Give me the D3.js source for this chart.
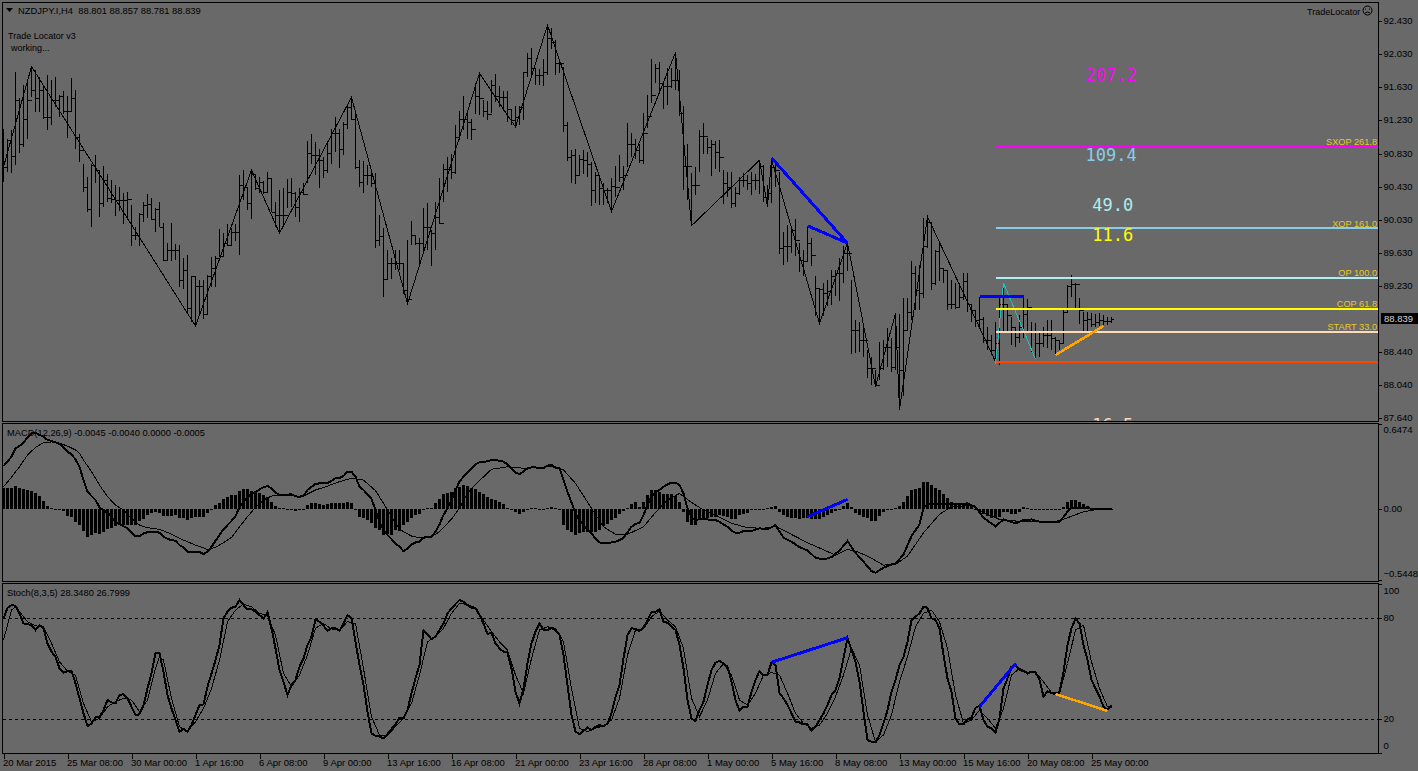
<!DOCTYPE html>
<html><head><meta charset="utf-8">
<script src="https://cdn.jsdelivr.net/npm/d3@7/dist/d3.min.js"></script>
<style>
html,body{margin:0;padding:0;background:#696969;overflow:hidden}
svg{display:block}
text{font-family:"Liberation Sans",Arial,sans-serif;font-size:9.4px;fill:#000}
</style></head><body>
<script>
const highs=[91.13,91.01,91.11,91.82,91.50,91.66,91.72,91.88,91.84,91.76,
91.66,91.78,91.72,91.76,91.54,91.58,91.52,91.74,91.60,91.07,
90.71,90.55,90.71,90.81,90.63,90.68,90.58,90.51,90.45,90.43,
90.36,90.37,90.21,89.95,90.11,90.25,90.34,90.29,90.17,90.25,
89.99,89.75,89.99,89.74,89.73,89.57,89.61,89.35,89.35,89.30,
89.30,89.36,89.58,89.59,89.92,89.87,89.98,89.93,89.98,90.57,
90.63,90.41,90.63,90.58,90.55,90.50,90.61,90.53,90.25,90.39,
90.41,90.52,90.53,90.37,90.41,90.47,90.98,91.07,90.97,90.89,
90.79,90.97,91.13,91.27,91.13,91.21,91.41,91.51,91.33,90.75,
90.74,90.69,90.63,90.60,90.09,89.93,89.67,89.57,89.67,89.67,
89.51,89.79,90.02,89.85,89.81,90.17,90.24,89.91,90.25,90.53,
90.70,90.79,90.82,91.17,91.35,91.52,91.35,91.25,91.68,91.80,
91.48,91.46,91.72,91.79,91.64,91.59,91.58,91.37,91.40,91.41,
91.82,92.04,92.10,91.85,91.85,91.97,92.38,92.35,92.20,91.94,
91.88,91.21,90.87,90.89,90.81,90.87,90.85,90.73,90.61,90.54,
90.47,90.41,90.53,90.68,90.81,90.68,91.20,91.08,91.01,90.95,
91.32,91.54,91.97,91.91,91.93,91.70,91.86,91.86,92.05,91.84,
91.40,90.94,90.60,90.67,91.12,91.20,91.02,91.00,90.98,91.00,
90.63,90.61,90.61,90.43,90.55,90.60,90.57,90.61,90.59,90.73,
90.69,90.45,90.75,90.69,90.61,89.89,89.97,89.95,90.04,89.75,
89.67,89.96,89.81,89.35,89.21,89.27,89.30,89.43,89.43,89.57,
89.71,89.75,89.31,88.82,88.80,88.74,88.46,88.38,88.22,88.56,
88.58,88.72,88.60,88.90,88.90,89.09,89.09,89.53,89.47,89.49,
90.05,90.07,89.99,89.67,89.75,89.45,89.43,89.31,89.27,89.27,
89.39,89.39,89.00,88.94,89.10,88.86,88.74,88.64,88.80,89.10,
89.27,89.00,88.86,88.72,88.88,89.10,89.07,88.80,88.79,88.66,
88.74,88.82,88.82,88.62,88.58,88.94,89.25,89.37,89.27,89.09,
88.92,88.92,88.91,88.90,88.91,88.88,88.86,88.857];
const lows=[90.49,90.61,90.60,90.69,90.84,90.91,91.01,91.51,91.33,91.33,
91.25,91.12,91.17,91.39,91.27,91.31,91.02,91.35,90.88,90.73,
90.37,90.13,89.95,90.47,90.07,90.18,90.25,90.23,90.08,90.14,
89.98,90.03,89.71,89.79,89.71,90.00,90.05,90.03,89.89,89.94,
89.53,89.54,89.54,89.55,89.22,89.20,88.90,88.80,88.75,88.90,
88.83,88.88,89.22,89.22,89.58,89.58,89.71,89.71,89.78,89.61,
90.27,90.15,90.04,90.39,90.35,90.34,90.35,90.12,89.94,89.87,
89.95,90.17,90.19,90.07,90.00,90.33,90.47,90.71,90.57,90.42,
90.53,90.60,90.71,90.85,90.66,90.81,91.13,91.24,90.65,90.43,
90.36,90.45,90.43,89.69,89.71,89.10,89.30,89.32,89.42,89.42,
89.14,89.02,89.73,89.73,89.49,89.63,89.67,89.47,89.67,89.98,
90.25,90.37,90.52,90.59,90.99,91.11,91.01,91.00,91.31,91.29,
91.27,91.23,91.32,91.45,91.39,91.35,91.21,91.17,91.15,91.17,
91.23,91.76,91.74,91.66,91.66,91.64,91.78,92.09,91.78,91.80,
91.09,90.74,90.47,90.46,90.57,90.58,90.55,90.20,90.23,90.21,
90.21,90.23,90.13,90.31,90.49,90.39,90.67,90.79,90.77,90.72,
90.71,91.14,91.44,91.68,91.56,91.37,91.42,91.62,91.60,91.28,
90.39,90.27,89.96,90.33,90.61,90.83,90.83,90.56,90.65,90.61,
90.22,90.31,90.17,90.19,90.33,90.43,90.39,90.33,90.39,90.34,
90.25,90.18,90.23,90.43,89.62,89.49,89.52,89.63,89.59,89.40,
89.35,89.53,89.47,88.87,88.78,88.87,88.99,89.00,89.11,89.05,
89.27,89.41,88.41,88.43,88.44,88.38,88.12,88.04,88.02,88.10,
88.22,88.25,88.19,88.22,87.74,87.90,88.70,88.82,88.94,88.94,
89.09,89.69,89.19,89.25,89.29,89.27,88.94,88.96,88.96,88.98,
89.06,88.92,88.80,88.74,88.72,88.54,88.46,88.40,88.32,88.28,
88.66,88.68,88.52,88.50,88.54,88.60,88.68,88.44,88.35,88.38,
88.50,88.48,88.46,88.40,88.46,88.54,88.92,89.10,88.96,88.77,
88.68,88.68,88.74,88.74,88.75,88.76,88.76,88.781];
const closes=[90.67,90.99,90.80,91.48,90.94,91.25,91.48,91.60,91.50,91.60,
91.27,91.27,91.48,91.48,91.52,91.35,91.35,91.50,91.03,90.87,
90.43,90.16,90.69,90.63,90.24,90.51,90.29,90.28,90.27,90.27,
90.27,90.28,89.85,89.85,90.10,90.21,90.22,90.04,90.16,89.95,
89.55,89.67,89.67,89.67,89.30,89.43,88.97,89.35,89.23,89.23,
88.90,89.35,89.45,89.57,89.59,89.75,89.73,89.89,89.89,90.45,
90.43,90.24,90.59,90.41,90.49,90.37,90.53,90.13,90.09,90.09,
90.09,90.37,90.35,90.19,90.37,90.34,90.84,90.81,90.81,90.75,
90.63,90.84,91.08,91.08,90.89,91.19,91.39,91.25,90.67,90.49,
90.57,90.57,90.47,89.79,89.83,89.32,89.51,89.51,89.51,89.51,
89.18,89.07,89.85,89.75,89.75,89.95,89.95,89.87,90.07,89.99,
90.65,90.65,90.61,91.03,91.25,91.25,91.21,91.13,91.52,91.50,
91.35,91.31,91.66,91.52,91.51,91.51,91.37,91.23,91.27,91.39,
91.81,91.98,91.86,91.78,91.78,91.82,92.22,92.18,91.92,91.92,
91.17,90.79,90.81,90.57,90.77,90.75,90.71,90.39,90.57,90.41,
90.39,90.39,90.44,90.43,90.55,90.57,90.95,90.95,90.87,90.75,
91.08,91.28,91.54,91.86,91.68,91.64,91.64,91.72,91.72,91.32,
90.68,90.68,90.45,90.45,91.04,91.04,90.91,90.94,90.85,90.79,
90.47,90.43,90.23,90.36,90.51,90.51,90.47,90.51,90.51,90.68,
90.31,90.35,90.67,90.63,89.69,89.72,89.72,89.91,89.79,89.55,
89.53,89.75,89.61,89.21,89.20,89.15,89.17,89.35,89.39,89.39,
89.63,89.63,88.70,88.70,88.58,88.58,88.24,88.24,88.04,88.24,
88.50,88.50,88.26,88.50,88.22,88.70,88.92,89.39,89.19,89.15,
89.71,90.01,89.27,89.66,89.45,89.43,89.02,89.02,88.98,89.10,
89.29,89.02,88.94,88.82,88.84,88.58,88.58,88.46,88.54,89.02,
89.02,88.88,88.74,88.62,88.74,88.90,88.98,88.68,88.54,88.54,
88.64,88.64,88.60,88.58,88.54,88.92,89.23,89.26,89.26,88.94,
88.82,88.84,88.78,88.80,88.82,88.81,88.81,88.839];
const zigBars=[0,7,48,62,69,87,101,119,128,136,152,168,172,189,191,192,204,211,218,223,224,231,248];
const zigPrices=[90.67,91.88,88.75,90.63,89.87,91.51,89.02,91.80,91.15,92.38,90.13,92.05,89.96,90.75,90.19,90.76,88.78,89.75,88.02,88.90,87.74,90.07,88.32];
const tealBars=[248,250,258];
const tealPrices=[88.29,89.27,88.35];
const fibNames=["SXOP 261.8","XOP 161.0","OP 100.0","COP 61.8","START 33.0",""];
const fibPrices=[90.92,89.93,89.33,88.96,88.68,88.32];
const fibColors=["#ff00ff","#87ceeb","#afeeee","#ffff00","#ffdab9","#ff4500"];
const bigLabels=["207.2","109.4","49.0","11.6","16.5"];
const bigPrices=[91.79,90.83,90.22,89.86,87.57];
const bigBars=[270.5,270.5,272.2,272.2,272.2];
const bigColors=["#ff00ff","#87ceeb","#afeeee","#ffff00","#ffdab9"];
const priceTicks=[92.43,92.03,91.63,91.23,90.83,90.43,90.03,89.63,89.23,88.44,88.04,87.64];
const timeBars=[0,16,32,48,64,80,96,112,128,144,160,176,192,208,224,240,256,272];
const timeLabels=["20 Mar 2015","25 Mar 08:00","30 Mar 00:00","1 Apr 16:00","6 Apr 08:00","9 Apr 00:00","13 Apr 16:00","16 Apr 08:00","21 Apr 00:00","23 Apr 16:00","28 Apr 08:00","1 May 00:00","5 May 16:00","8 May 08:00","13 May 00:00","15 May 16:00","20 May 08:00","25 May 00:00"];
const macdHist=[.156,.156,.161,.173,.156,.148,.143,.138,.122,.097,.059,.020,.008,-.005,-.010,-.020,-.056,-.061,-.099,-.125,
-.168,-.214,-.201,-.189,-.194,-.176,-.158,-.150,-.133,-.125,-.125,-.125,-.125,-.125,-.094,-.077,-.048,-.036,-.023,-.031,
-.056,-.056,-.056,-.048,-.069,-.074,-.087,-.074,-.061,-.061,-.061,-.031,-.010,.028,.046,.074,.087,.102,.107,.138,
.150,.150,.138,.138,.122,.107,.087,.054,.020,.002,.002,-.003,-.005,-.015,-.010,-.003,.028,.046,.046,.036,
.026,.036,.041,.041,.041,.046,.051,.041,.000,-.061,-.074,-.087,-.112,-.150,-.163,-.201,-.196,-.201,-.163,-.171,
-.125,-.099,-.074,-.048,-.043,.000,.003,.008,.041,.074,.110,.122,.130,.156,.168,.181,.176,.156,.148,.130,
.110,.092,.074,.066,.048,.033,.008,-.013,-.023,-.041,-.028,-.003,.008,.003,-.005,-.010,.008,.015,.003,-.010,
-.125,-.163,-.181,-.201,-.189,-.176,-.181,-.176,-.176,-.163,-.133,-.117,-.087,-.069,-.043,-.018,.003,.033,.048,.015,
.054,.105,.143,.143,.130,.110,.110,.110,.099,.048,-.028,-.099,-.125,-.125,-.087,-.082,-.074,-.061,-.061,-.048,
-.054,-.061,-.079,-.079,-.048,-.043,-.031,-.013,-.005,-.005,-.005,.003,.015,.020,-.023,-.048,-.061,-.069,-.074,-.077,
-.069,-.074,-.082,-.082,-.082,-.064,-.048,-.031,-.018,-.005,.020,.046,.013,-.031,-.048,-.064,-.074,-.094,-.094,-.056,
-.026,-.005,.000,.003,.020,.054,.097,.140,.148,.156,.204,.207,.181,.161,.143,.110,.079,.054,.033,.033,
.038,.038,.020,-.005,-.031,-.043,-.056,-.074,-.074,-.064,-.023,-.023,-.038,-.038,-.023,.013,.003,-.005,-.010,-.010,
-.005,-.010,-.005,-.005,-.005,.013,.054,.069,.069,.054,.033,.020,.003,.000,.000,.000,.000,-.0005];
const macdMainBars=[0,1,2,3,4,5,6,7,8,9,10,11,12,13,14,15,16,17,18,19,20,21,22,23,24,25,26,27,28,29,30,31,32,33,34,35,36,37,38,39,40,41,42,43,44,45,46,47,48,49,50,51,52,53,54,55,56,57,58,59,60,61,62,63,64,65,66,67,68,69,70,71,72,73,74,75,76,77,78,79,80,81,82,83,84,85,86,87,88,89,90,91,92,93,94,95,96,97,98,99,100,101,102,103,104,105,106,107,108,109,110,111,112,113,114,115,116,117,118,119,120,121,122,123,124,125,126,127,128,129,130,131,132,133,134,135,136,137,138,139,140,141,142,143,144,145,146,147,148,149,150,151,152,153,154,155,156,157,158,159,160,161,162,163,164,165,166,167,168,169,170,171,172,173,174,175,176,177,178,179,180,181,182,183,184,185,187,189,191,193,195,197,199,201,203,205,207,209,211,213,215,217,218,220,222,223,225,227,229,230,231,235,238,241,243,245,248,250,253,255,257,259,264,266,267,270,272,277];
const macdMain=[.326,.360,.398,.462,.479,.505,.546,.576,.581,.564,.551,.525,.518,.507,.495,.469,.436,.416,.377,.321,.219,.130,.097,.066,.010,-.010,-.031,-.061,-.099,-.117,-.133,-.150,-.184,-.209,-.209,-.189,-.179,-.176,-.176,-.184,-.214,-.230,-.240,-.245,-.278,-.296,-.329,-.332,-.329,-.329,-.347,-.329,-.291,-.245,-.201,-.158,-.125,-.094,-.056,.010,.054,.087,.117,.125,.148,.163,.173,.156,.122,.105,.105,.107,.110,.094,.092,.097,.143,.168,.189,.194,.194,.194,.214,.232,.235,.250,.283,.283,.245,.168,.143,.110,.074,-.010,-.099,-.163,-.201,-.232,-.265,-.291,-.324,-.303,-.273,-.258,-.252,-.222,-.214,-.214,-.176,-.120,-.048,.003,.066,.143,.207,.245,.275,.309,.339,.354,.354,.365,.370,.375,.365,.360,.339,.309,.275,.265,.283,.309,.316,.316,.309,.309,.329,.334,.314,.309,.219,.130,.048,-.036,-.087,-.120,-.163,-.189,-.227,-.258,-.260,-.260,-.258,-.252,-.240,-.222,-.181,-.138,-.117,-.107,-.048,.028,.092,.130,.143,.168,.186,.199,.199,.181,.117,.003,-.066,-.087,-.079,-.082,-.082,-.087,-.087,-.099,-.120,-.138,-.168,-.184,-.184,-.170,-.171,-.150,-.158,-.125,-.222,-.252,-.293,-.319,-.375,-.388,-.370,-.319,-.247,-.337,-.405,-.477,-.490,-.451,-.426,-.421,-.349,-.209,-.120,.008,.033,.038,.033,.041,.013,-.069,-.135,-.082,-.112,-.087,-.082,-.099,-.102,-.023,.008,.008,.000,-.0045];
const macdSignalBars=[0,2,4,6,8,10,12,14,16,18,19,20,22,24,26,28,30,32,34,36,39,42,45,48,51,53,55,57,59,61,63,65,67,69,71,73,75,78,81,84,87,90,93,95,97,99,102,104,107,109,112,114,116,118,122,126,130,137,140,143,147,150,153,156,160,163,166,169,172,175,178,182,186,190,193,201,208,211,213,216,220,223,226,230,234,237,242,245,249,253,263,266,270,273,277];
const macdSignal=[.168,.240,.321,.410,.469,.505,.510,.500,.479,.449,.423,.372,.283,.181,.092,.028,-.010,-.074,-.125,-.145,-.158,-.194,-.240,-.278,-.311,-.296,-.260,-.219,-.138,-.061,.010,.066,.097,.105,.105,.097,.097,.143,.173,.207,.232,.219,.138,.041,-.061,-.158,-.209,-.222,-.214,-.176,-.079,.003,.117,.186,.301,.321,.309,.321,.296,.194,.003,-.138,-.196,-.196,-.138,-.028,.066,.117,.048,-.010,-.048,-.112,-.145,-.150,-.133,-.260,-.354,-.311,-.324,-.362,-.431,-.426,-.362,-.184,-.043,.015,.026,-.031,-.082,-.094,-.099,-.069,-.023,-.008,-.004];
const macdTicks=[0.6474,0,-0.5448];
const stochMain=[79.8,86.1,87.7,87.3,82.8,76.8,76.4,75.8,72.9,75.8,73.9,65,60,57,50.1,47.5,48.5,48.5,41.2,32.3,
23.4,15.8,17.4,21,21,25.3,31.3,29.9,29.3,34.3,34.7,32.3,27.3,22.4,22.8,28.3,38.2,47.1,59,59,
48.1,34.3,26.3,19.4,12.5,14.1,12.5,16.4,22.4,28.3,28.7,39.2,47.1,55,64,79.8,83.8,86.1,86.7,90.7,
87.7,85.3,85.3,83.8,81.8,79.8,83.4,73.9,62,49.1,42.2,34.3,40.2,43.2,51.1,56,64,68.9,79.2,77.8,
75.4,72.5,73.9,73.9,72.5,76.8,81.8,79.8,65.9,52.1,40.2,24.4,11.5,10.1,9.5,8.5,11.1,14.1,16.8,20.8,
20.4,25.3,35.3,44.2,52.1,72.9,70.3,67.5,68.9,72.9,76.8,82.8,85.7,88.3,90.7,89.7,87.7,86.1,86.1,81.8,
76.8,70.5,71.3,65,62,60,59.4,50.1,36.2,29.3,38.2,53,65,71.9,76.8,72.9,72.9,73.9,72.9,69.9,
58,40.2,22.4,12.5,11.1,12.9,14.9,13.5,15.5,16.4,15.8,17.4,23.4,33.3,40.2,56,69.9,73.9,73.5,72.3,
74.3,78.8,83.4,83.8,85.1,77.8,77.2,74.9,72.9,64,50.1,31.3,20.4,18.8,25.3,30.3,40.2,49.1,53.5,54.5,
53.1,51.1,42.2,31.3,24.8,27.3,27.3,36.2,43.2,48.5,46.1,46.1,53.7,52.1,35.3,32.3,28.3,23.4,18.4,18,
16.8,16.8,12.9,15.5,19.4,23.4,28.3,34.3,37.2,44.2,56,68.3,61,54.1,42.2,24.4,7.5,6.5,6.1,10.5,
17.4,25.3,36.2,43.2,52.1,57,65.9,78.8,80.8,82.8,86.7,86.1,79.8,78.8,73.9,58,44.2,36.2,20.4,16.8,
16.8,20,20.8,26.7,27.9,19.4,15.5,14.5,11.9,20.4,38.2,44.2,51.1,52.1,49.1,48.5,47.1,48.1,47.7,43.2,
33.3,36.6,35.3,34.9,36.2,48.1,64,73.9,79.8,76.8,64,55,43.2,38.2,33.3,27.3,25.4,28.35];
const stochSignalBars=[0,2,3,4,6,8,10,12,14,16,18,20,22,24,26,28,30,32,34,36,38,39,40,42,44,46,48,50,52,54,56,58,60,62,64,66,68,70,72,74,76,78,80,82,84,86,88,90,92,94,96,98,100,102,104,106,108,110,112,114,116,118,120,122,124,126,128,130,132,134,136,138,140,142,144,146,148,150,152,154,156,158,160,162,164,166,168,170,172,174,176,178,180,182,184,186,188,190,192,194,196,198,200,202,204,206,208,210,212,214,216,218,220,222,224,226,228,230,232,234,236,238,240,242,244,246,248,250,252,254,256,258,260,262,264,266,268,270,272,274,276,277];
const stochSignal=[66.9,84.8,86.7,83.8,77.8,75.4,74.8,65,54,48.5,46,29.3,18.4,20.4,27.3,30.3,32.3,31.3,24.4,31.3,50.1,57,55,32.3,15.4,12.5,18.4,26.3,38.2,55,77.8,84.7,88.3,86.7,82.8,81.4,69.9,47.1,39.2,46.1,58,73.9,76.8,73.5,72.9,77.8,76.8,50.1,21.4,10.5,10.5,15.4,20.4,29.3,46.1,65.9,68.9,73.9,82.8,88.7,88.1,86.1,78.8,71.9,65.9,61,46.1,35.3,56,72.9,74.8,73.9,65.9,38.2,14.5,12.5,14.5,16,19.4,32.3,58,72.9,73.5,80.8,84.2,78.8,74.8,62,32.3,21.4,31.3,47.1,53,46.1,31.3,28.3,35.3,46.1,47.7,46.1,35.3,23.4,17.4,14.5,16.4,23.4,33.3,46.1,62,52.1,22.4,6.5,10.5,22.4,42.2,57,74.8,82.8,84.7,77.8,62,34.3,17.4,19.4,25.3,20.4,14.5,26.3,46.1,50.1,47.7,47.7,42.2,35.8,35.3,53,72.9,75.8,54,38.2,27.3,26.8];
const stochTicks=[100,80,20,0];
const stochLevels=[80,20];

const W=1418,H=771,black="#000";
const x=d3.scaleLinear().domain([0,277]).range([3.5,1111.5]);
const panes={price:[2.5,421.5],macd:[423.5,581.5],stoch:[583.5,753.5]};
const yPrice=d3.scaleLinear().domain([92.43,87.64]).range([21,418]);
const yMacd=d3.scaleLinear().domain([0.6474,-0.5448]).range([424,580]);
const yStoch=d3.scaleLinear().domain([100,0]).range([584.4,752.7]);
const svg=d3.select("body").append("svg").attr("width",W).attr("height",H);
svg.append("rect").attr("width",W).attr("height",H).attr("fill","#696969");
svg.append("clipPath").attr("id","cp").append("rect").attr("x",3).attr("y",3).attr("width",1375).attr("height",418);
Object.values(panes).forEach(([a,b])=>svg.append("rect").attr("x",2.5).attr("y",a).attr("width",1376).attr("height",b-a).attr("fill","none").attr("stroke",black));
const crisp=s=>s.attr("shape-rendering","crispEdges");
const pline=(g,xs,ys,yS,w,c)=>crisp(g.append("path").attr("fill","none").attr("stroke",c).attr("stroke-width",w)
  .attr("d",d3.line().x(d=>x(d)).y((d,i)=>yS(ys[i]))(xs)));

// price bars
const price=svg.append("g").attr("clip-path","url(#cp)");
crisp(price.append("g").attr("stroke",black).attr("fill","none")).selectAll("path").data(highs).join("path")
 .attr("d",(h,i)=>{const X=x(i),o=yPrice(i?closes[i-1]:90.8),c=yPrice(closes[i]);
   return `M${X},${yPrice(h)}V${yPrice(lows[i])}M${X-2},${Math.round(o)+.5}H${X}M${X},${Math.round(c)+.5}H${X+2}`;});
pline(price,zigBars,zigPrices,yPrice,1,black);
pline(price,tealBars,tealPrices,yPrice,1,"#20c0c0");
// fib levels
price.selectAll("line.fib").data(fibPrices).join("line").attr("class","fib")
 .attr("x1",x(248)).attr("x2",1378).attr("y1",d=>Math.round(yPrice(d))).attr("y2",d=>Math.round(yPrice(d)))
 .attr("stroke",(d,i)=>fibColors[i]).attr("stroke-width",2).attr("shape-rendering","crispEdges");
price.selectAll("text.fibl").data(fibNames).join("text").attr("class","fibl").attr("x",1377)
 .attr("y",(d,i)=>yPrice(fibPrices[i])-1.5).attr("text-anchor","end").style("fill","#e8c828").style("font-size","9.2px").text(d=>d);
price.selectAll("text.big").data(bigLabels).join("text").attr("class","big")
 .attr("x",(d,i)=>x(bigBars[i])).attr("y",(d,i)=>yPrice(bigPrices[i])).attr("dy",7)
 .style("font-family","'DejaVu Sans Mono',monospace").style("font-size","17px")
 .style("fill",(d,i)=>bigColors[i]).text(d=>d);
// trend lines on price
const seg=(g,a,b,p,q,yS,c,w)=>crisp(g.append("line").attr("x1",x(a)).attr("x2",x(b)).attr("y1",yS(p)).attr("y2",yS(q)).attr("stroke",c).attr("stroke-width",w));
seg(price,192,211,90.78,89.75,yPrice,"#0000ff",3);
seg(price,201,211,89.96,89.75,yPrice,"#0000ff",3);
seg(price,244,255,89.11,89.11,yPrice,"#0000ff",3);
seg(price,263,275,88.40,88.75,yPrice,"#ffa500",2.5);

// MACD
const m=svg.append("g");
crisp(m.append("g").attr("fill",black)).selectAll("rect").data(macdHist).join("rect")
 .attr("x",(d,i)=>x(i)-1.5).attr("width",3)
 .attr("y",d=>Math.min(yMacd(d),yMacd(0))).attr("height",d=>Math.max(1,Math.abs(yMacd(d)-yMacd(0))));
pline(m,macdSignalBars,macdSignal,yMacd,1,black);
pline(m,macdMainBars,macdMain,yMacd,2,black);
seg(m,201,211,-.061,.071,yMacd,"#0000ff",3);

// Stochastic
const s=svg.append("g");
s.selectAll("line.lv").data(stochLevels).join("line").attr("class","lv").attr("x1",3).attr("x2",1378)
 .attr("y1",d=>Math.round(yStoch(d))+.5).attr("y2",d=>Math.round(yStoch(d))+.5)
 .attr("stroke",black).attr("stroke-dasharray","3 3").attr("shape-rendering","crispEdges");
pline(s,stochSignalBars,stochSignal,yStoch,1,black);
pline(s,d3.range(stochMain.length),stochMain,yStoch,2,black);
seg(s,192,211,53.7,68.3,yStoch,"#0000ff",3);
seg(s,244,253,27.3,53,yStoch,"#0000ff",3);
seg(s,263,276,34.9,24.8,yStoch,"#ffa500",2.5);

// axes
function yAxis(scale,ticks,fmt,shift){
  const g=svg.append("g").attr("transform","translate(1378.5,0)")
    .call(d3.axisRight(scale).tickValues(ticks).tickFormat(fmt).tickSize(3).tickPadding(2));
  g.select(".domain").remove();
  g.selectAll("text").attr("dy",d=>(shift[d]||0)+2.5).attr("fill",black).style("font-size","9.5px");
  crisp(g.selectAll("line"));
  return g;
}
yAxis(yPrice,priceTicks,d3.format(".3f"),{});
yAxis(yMacd,macdTicks,d=>d===0?"0.00":d3.format(".4f")(d),{"0.6474":6,"-0.5448":-6});
yAxis(yStoch,stochTicks,d=>String(d),{"100":7,"0":-7});
const ax=svg.append("g").attr("transform","translate(0,753.5)")
  .call(d3.axisBottom(x).tickValues(timeBars).tickFormat((d,i)=>timeLabels[i]).tickSize(5).tickPadding(1));
ax.select(".domain").remove();
ax.selectAll("text").attr("text-anchor","start").attr("x",-1).style("font-size","9.5px");
crisp(ax.selectAll("line"));

// text labels
const T=(t,X,Y)=>svg.append("text").attr("x",X).attr("y",Y).text(t);
svg.append("path").attr("d","M6,8H13L9.5,12Z").attr("fill",black);
T("NZDJPY.I,H4  88.801 88.857 88.781 88.839",18,14).attr("xml:space","preserve").style("white-space","pre");
T("Trade Locator v3",8,39).style("font-size","9px");
T("working...",11,51).style("font-size","9px");
T("TradeLocator",1307,15).style("font-size","9px");
svg.append("circle").attr("cx",1367.5).attr("cy",10.5).attr("r",4.5).attr("fill","none").attr("stroke",black);
svg.append("path").attr("d","M1365,9h1M1369,9h1M1365,13q2.5,-2 5,0").attr("fill","none").attr("stroke",black);
T("MACD(12,26,9) -0.0045 -0.0040 0.0000 -0.0005",7,436).style("font-size","9.3px");
T("Stoch(8,3,5) 28.3480 26.7999",7,596).style("font-size","9.3px");
svg.append("rect").attr("x",1381).attr("y",313).attr("width",37).attr("height",11).attr("fill",black);
svg.append("text").attr("x",1384).attr("y",322).style("fill","#d8d8d8").style("font-size","9.5px").text(d3.format(".3f")(closes[277]));
</script>
</body></html>
